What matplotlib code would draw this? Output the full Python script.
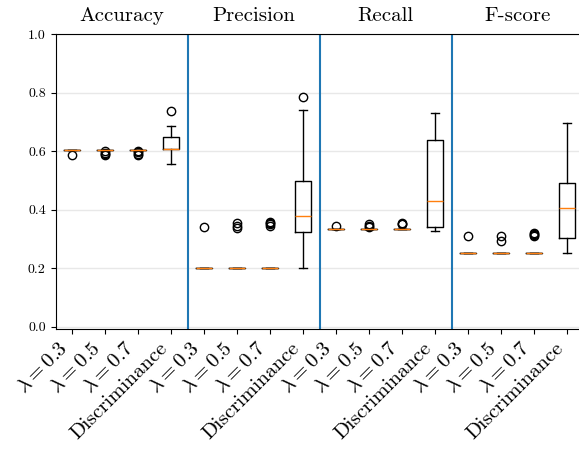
import matplotlib.pyplot as plt

plt.rcParams["font.family"] = "serif"
plt.rcParams["font.serif"] = ["cmr10"]
plt.rcParams["mathtext.fontset"] = "cm"
plt.rcParams["axes.unicode_minus"] = False
plt.rcParams["axes.formatter.use_mathtext"] = True

metrics = ["Accuracy", "Precision", "Recall", "F-score"]
methods = [r"$\lambda = 0.3$", r"$\lambda = 0.5$", r"$\lambda = 0.7$", "Discriminance"]

# box statistics, one row per metric, columns follow `methods`
medians = [
    [0.605, 0.605, 0.605, 0.609],
    [0.2017, 0.2017, 0.2017, 0.379],
    [0.3333, 0.3333, 0.3333, 0.429],
    [0.2513, 0.2513, 0.2513, 0.405],
]
q1 = [
    [0.605, 0.605, 0.605, 0.609],
    [0.2017, 0.2017, 0.2017, 0.324],
    [0.3333, 0.3333, 0.3333, 0.342],
    [0.2513, 0.2513, 0.2513, 0.303],
]
q3 = [
    [0.605, 0.605, 0.605, 0.650],
    [0.2017, 0.2017, 0.2017, 0.498],
    [0.3333, 0.3333, 0.3333, 0.637],
    [0.2513, 0.2513, 0.2513, 0.490],
]
whisker_low = [
    [0.605, 0.605, 0.605, 0.556],
    [0.2017, 0.2017, 0.2017, 0.2025],
    [0.3333, 0.3333, 0.3333, 0.326],
    [0.2513, 0.2513, 0.2513, 0.252],
]
whisker_high = [
    [0.605, 0.605, 0.605, 0.687],
    [0.2017, 0.2017, 0.2017, 0.742],
    [0.3333, 0.3333, 0.3333, 0.729],
    [0.2513, 0.2513, 0.2513, 0.697],
]
outliers = [
    [[0.586], [0.586, 0.590, 0.595, 0.599], [0.586, 0.591, 0.596, 0.600], [0.738]],
    [[0.341], [0.337, 0.346, 0.356], [0.345, 0.350, 0.354, 0.358], [0.784]],
    [[0.346], [0.340, 0.345, 0.350], [0.350, 0.353, 0.356], []],
    [[0.311], [0.294, 0.312], [0.311, 0.314, 0.317, 0.320], []],
]

stats = []
for m in range(len(metrics)):
    for k in range(len(methods)):
        stats.append({
            "med": medians[m][k],
            "q1": q1[m][k],
            "q3": q3[m][k],
            "whislo": whisker_low[m][k],
            "whishi": whisker_high[m][k],
            "fliers": outliers[m][k],
            "label": methods[k],
        })

fig = plt.figure(figsize=(5.79, 4.5), dpi=100)
ax = fig.add_axes([0.0959, 0.2689, 0.9119, 0.6555])

positions = list(range(1, len(stats) + 1))
ax.bxp(stats, positions=positions, widths=0.5)

ax.set_xlim(0.5, len(stats) + 0.5)
ax.set_ylim(-0.007, 1.0)
yticks = [0.0, 0.2, 0.4, 0.6, 0.8, 1.0]
ax.set_yticks(yticks)
ax.set_yticklabels([f"{v:.1f}" for v in yticks], fontsize=10)
ax.set_xticks(positions)
ax.set_xticklabels([s["label"] for s in stats], rotation=45, ha="right", fontsize=15)

ax.yaxis.grid(True, color="#e8e8e8", linewidth=1)
ax.set_axisbelow(True)

# separators between metric groups
n = len(methods)
for g in range(1, len(metrics)):
    ax.axvline(g * n + 0.5, color="C0", linewidth=1.5)

for g, name in enumerate(metrics):
    ax.text(g * n + (n + 1) / 2, 1.044, name, transform=ax.get_xaxis_transform(),
            ha="center", va="baseline", fontsize=15)

fig.savefig("out.png", dpi=100)
